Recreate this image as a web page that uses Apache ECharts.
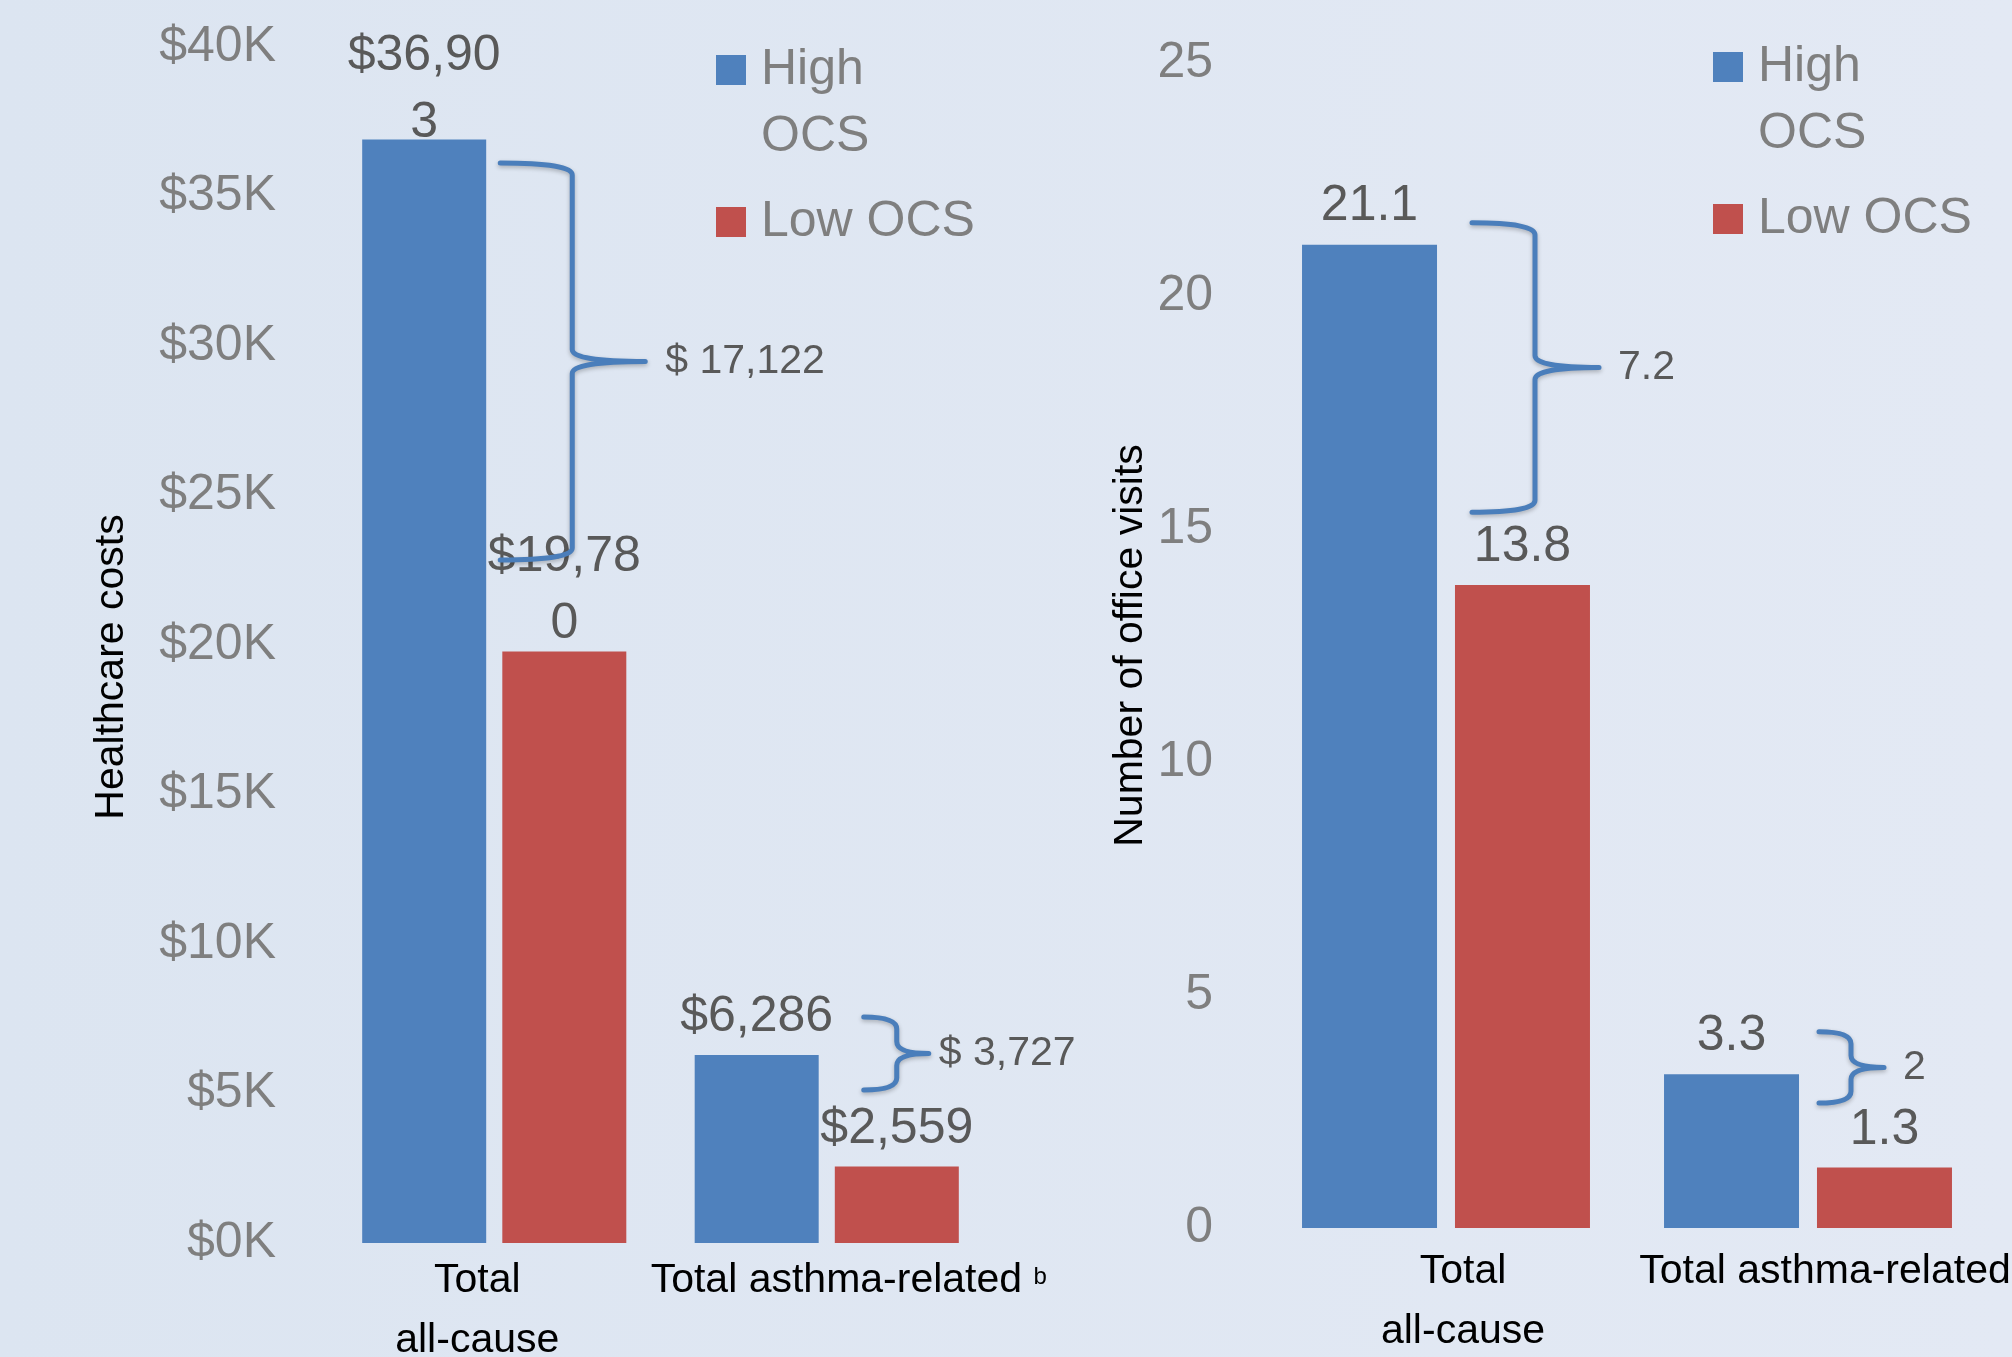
<!DOCTYPE html>
<html>
<head>
<meta charset="utf-8">
<script src="https://cdn.jsdelivr.net/npm/echarts@6/dist/echarts.min.js"></script>
<style>
  html, body { margin: 0; padding: 0; background: #dde6f1; }
  #chart { width: 2012px; height: 1357px; }
</style>
</head>
<body>
<div id="chart"></div>
<script>
// ---- Data ----
const seriesNames = ['High OCS', 'Low OCS'];
const costCategories = ['Total\nall-cause', 'Total asthma-related'];
const costFootnote = 'b';
const visitCategories = ['Total\nall-cause', 'Total asthma-related'];

const highOcsCosts = [36903, 6286];
const lowOcsCosts = [19780, 2559];
const highOcsVisits = [21.1, 3.3];
const lowOcsVisits = [13.8, 1.3];

// Difference brackets: [upper end, lower end] on the value axis, and their labels
const costGapSpans = [[36120, 22840], [7560, 5120]];
const costGapLabels = ['$ 17,122', '$ 3,727'];
const visitGapSpans = [[21.57, 15.36], [4.21, 2.68]];
const visitGapLabels = ['7.2', '2'];

const costAxisName = 'Healthcare costs';
const visitAxisName = 'Number of office visits';

// ---- Styling ----
const FONT = "'Liberation Sans Narrow', 'Arial Narrow', 'Liberation Sans', Arial, sans-serif";
const BLUE = '#4f81bd';
const RED = '#c0504d';
const BRACE = '#4a7ebb';
const VALUE_GREY = '#595959';
const TICK_GREY = '#7f7f7f';
const BIG = 50;     // tick, value and legend text
const SMALL = 41;   // category, axis-name and bracket text

// bracket geometry, px offsets from the category centre
const costBraceShape = [
  { arm: 6, stem: 78, tip: 151, gap: 20 },
  { arm: 37, stem: 70, tip: 102, gap: 10 }
];
const visitBraceShape = [
  { arm: 26, stem: 89, tip: 153, gap: 19 },
  { arm: 11, stem: 43, tip: 76, gap: 19 }
];

// value-label offsets above the bars (wrapped labels sit lower)
const costLabelDistance = { high: [-17, 4], low: [-6, 4] };
const visitLabelDistance = { high: [5, 5], low: [4, 4] };

const withCommas = v => String(v).replace(/\B(?=(\d{3})+(?!\d))/g, ',');

function braceRenderer(shape, labels) {
  return function (params, api) {
    const g = shape[params.dataIndex];
    const top = api.coord([api.value(0), api.value(1)]);
    const bot = api.coord([api.value(0), api.value(2)]);
    const cx = top[0];
    const yT = top[1], yB = bot[1], yM = (yT + yB) / 2;
    const xa = cx + g.arm, xv = cx + g.stem, xt = cx + g.tip;
    const r = Math.min(12, (yB - yT) / 6);
    const d = `M${xa},${yT} Q${xv},${yT} ${xv},${yT + r} L${xv},${yM - r} ` +
              `Q${xv},${yM} ${xt},${yM} Q${xv},${yM} ${xv},${yM + r} ` +
              `L${xv},${yB - r} Q${xv},${yB} ${xa},${yB}`;
    return {
      type: 'group',
      children: [
        {
          type: 'path',
          shape: { pathData: d },
          style: {
            stroke: BRACE, lineWidth: 5, fill: 'none', lineCap: 'round', lineJoin: 'round',
            shadowBlur: 4, shadowOffsetY: 2, shadowColor: 'rgba(0,0,0,0.25)'
          }
        },
        {
          type: 'text',
          x: xt + g.gap,
          y: yM,
          style: {
            text: labels[params.dataIndex],
            fill: VALUE_GREY, fontSize: SMALL, fontFamily: FONT,
            align: 'left', verticalAlign: 'middle'
          }
        }
      ]
    };
  };
}

function valueLabel(fmt) {
  return {
    show: true, position: 'top', color: VALUE_GREY, fontSize: BIG, lineHeight: 67,
    fontFamily: FONT, width: 160, overflow: 'breakAll', formatter: p => fmt(p.value)
  };
}

function legendFor(left, top) {
  return {
    left: left, top: top, orient: 'vertical', padding: 0,
    itemWidth: 30, itemHeight: 30, itemGap: 14, icon: 'rect', selectedMode: false,
    data: seriesNames,
    // a blank first line keeps the first word level with the swatch when the name wraps
    formatter: n => (n === seriesNames[0] ? ' \n' + n.replace(' ', '\n') : n),
    textStyle: { color: TICK_GREY, fontSize: BIG, lineHeight: 67, fontFamily: FONT, padding: [4, 0, 0, 10] }
  };
}

const hiddenAxisParts = {
  axisLine: { show: false }, axisTick: { show: false }, splitLine: { show: false }
};

const option = {
  animation: false,
  backgroundColor: {
    type: 'linear', x: 0, y: 0, x2: 1, y2: 0,
    colorStops: [{ offset: 0, color: '#dce5f1' }, { offset: 1, color: '#e3e9f4' }]
  },
  textStyle: { fontFamily: FONT },
  grid: [
    { left: 328, right: 1019, top: 47, bottom: 114, outerBoundsMode: 'none', containLabel: false },
    { left: 1265, right: 23, top: 63, bottom: 129, outerBoundsMode: 'none', containLabel: false }
  ],
  xAxis: [
    Object.assign({
      type: 'category', gridIndex: 0, data: costCategories,
      axisLabel: {
        interval: 0, margin: 8, color: '#000', fontSize: SMALL, lineHeight: 60, fontFamily: FONT,
        formatter: (v, i) => i === 0
          ? v.split('\n').map(s => `{l|${s}}`).join('\n')
          : `{r|${v} }{sup|${costFootnote}}`,
        rich: {
          l: { color: '#000', fontSize: SMALL, lineHeight: 60, fontFamily: FONT, padding: [0, 34, 0, 0] },
          r: { color: '#000', fontSize: SMALL, lineHeight: 60, fontFamily: FONT, padding: [0, 0, 0, 44] },
          sup: { color: '#000', fontSize: 24, lineHeight: 24, fontFamily: FONT, verticalAlign: 'top', padding: [14, 0, 0, 0] }
        }
      }
    }, hiddenAxisParts),
    Object.assign({
      type: 'category', gridIndex: 1, data: visitCategories,
      axisLabel: {
        interval: 0, margin: 14, color: '#000', fontSize: SMALL, lineHeight: 60, fontFamily: FONT,
        padding: [0, 0, 0, 34]
      }
    }, hiddenAxisParts)
  ],
  yAxis: [
    Object.assign({
      type: 'value', gridIndex: 0, min: 0, max: 40000, interval: 5000,
      axisLabel: { margin: 52, color: TICK_GREY, fontSize: BIG, fontFamily: FONT, formatter: v => '$' + (v / 1000) + 'K' },
      name: costAxisName, nameLocation: 'middle', nameGap: 196, nameRotate: 90,
      nameTextStyle: { color: '#000', fontSize: SMALL, fontFamily: FONT, padding: [0, 44, 0, 0] }
    }, hiddenAxisParts),
    Object.assign({
      type: 'value', gridIndex: 1, min: 0, max: 25, interval: 5,
      axisLabel: { margin: 52, color: TICK_GREY, fontSize: BIG, fontFamily: FONT },
      name: visitAxisName, nameLocation: 'middle', nameGap: 114, nameRotate: 90,
      nameTextStyle: { color: '#000', fontSize: SMALL, fontFamily: FONT }
    }, hiddenAxisParts)
  ],
  legend: [legendFor(716, -32.5), legendFor(1713, -35.5)],
  series: [
    {
      name: seriesNames[0], type: 'bar', xAxisIndex: 0, yAxisIndex: 0,
      barWidth: 124, barGap: '13%', itemStyle: { color: BLUE },
      label: valueLabel(v => '$' + withCommas(v)),
      data: highOcsCosts.map((v, i) => ({ value: v, label: { distance: costLabelDistance.high[i] } }))
    },
    {
      name: seriesNames[1], type: 'bar', xAxisIndex: 0, yAxisIndex: 0,
      barWidth: 124, barGap: '13%', itemStyle: { color: RED },
      label: valueLabel(v => '$' + withCommas(v)),
      data: lowOcsCosts.map((v, i) => ({ value: v, label: { distance: costLabelDistance.low[i] } }))
    },
    {
      name: seriesNames[0], type: 'bar', xAxisIndex: 1, yAxisIndex: 1,
      barWidth: 135, barGap: '13.3%', itemStyle: { color: BLUE },
      label: valueLabel(v => v.toFixed(1)),
      data: highOcsVisits.map((v, i) => ({ value: v, label: { distance: visitLabelDistance.high[i] } }))
    },
    {
      name: seriesNames[1], type: 'bar', xAxisIndex: 1, yAxisIndex: 1,
      barWidth: 135, barGap: '13.3%', itemStyle: { color: RED },
      label: valueLabel(v => v.toFixed(1)),
      data: lowOcsVisits.map((v, i) => ({ value: v, label: { distance: visitLabelDistance.low[i] } }))
    },
    {
      type: 'custom', xAxisIndex: 0, yAxisIndex: 0, silent: true, z: 5,
      encode: { x: 0, y: [1, 2] },
      data: costGapSpans.map((s, i) => [i, s[0], s[1]]),
      renderItem: braceRenderer(costBraceShape, costGapLabels)
    },
    {
      type: 'custom', xAxisIndex: 1, yAxisIndex: 1, silent: true, z: 5,
      encode: { x: 0, y: [1, 2] },
      data: visitGapSpans.map((s, i) => [i, s[0], s[1]]),
      renderItem: braceRenderer(visitBraceShape, visitGapLabels)
    }
  ]
};

const chart = echarts.init(document.getElementById('chart'), null, { renderer: 'canvas' });
chart.setOption(option);
</script>
</body>
</html>
